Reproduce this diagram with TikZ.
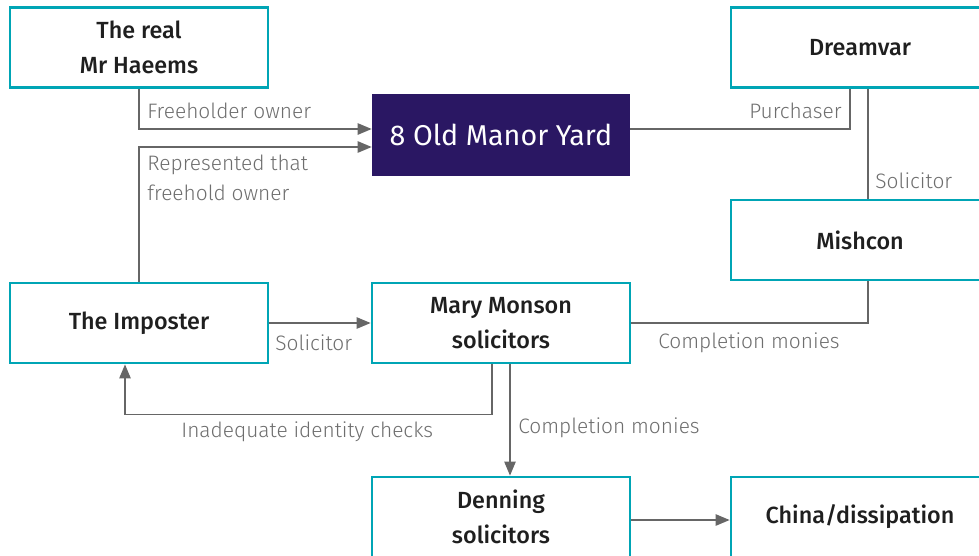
\documentclass[tikz,border=0pt]{standalone}
\usepackage{fontspec}
\setmainfont{Fira Sans}[UprightFont=* Light, BoldFont=* Medium]
\newfontfamily\hubfont{Fira Sans}
\usetikzlibrary{arrows.meta}
\definecolor{teal}{HTML}{00A5B5}
\definecolor{deep}{HTML}{2A1763}
\definecolor{conn}{HTML}{666666}
\definecolor{lbl}{HTML}{6E6E6E}
\tikzset{
  box/.style={draw=teal, line width=1.6pt, fill=white, minimum width=5.16cm, minimum height=1.6cm, align=center, font=\fontsize{13.3}{20}\selectfont\bfseries, text=black!88},
  hub/.style={fill=deep, minimum width=5.16cm, minimum height=1.64cm, font=\hubfont\fontsize{16.3}{18}\selectfont, text=white},
  ln/.style={draw=conn, line width=0.8pt},
  arr/.style={ln, -{Triangle[length=8pt,width=6.5pt]}},
  lab/.style={inner sep=0pt, text=lbl, font=\fontsize{11.9}{17}\selectfont, align=left}
}
\begin{document}
\begin{tikzpicture}[x=0.02cm, y=-0.02cm]
\clip (0,0) rectangle (979,555);
\fill[white] (0,0) rectangle (979,555);
\node[box] (haeems) at (139,47.5) {The real\\Mr Haeems};
\node[box] (dreamvar) at (860,47.5) {Dreamvar};
\node[hub] (omy) at (501,135) {8 Old Manor Yard};
\node[box] (mishcon) at (860,240) {Mishcon};
\node[box] (imposter) at (139,323) {The Imposter};
\node[box] (mms) at (501,323) {Mary Monson\\solicitors};
\node[box] (denning) at (501,517) {Denning\\solicitors};
\node[box] (china) at (860,517) {China/dissipation};

\draw[arr] (haeems.south) |- ([yshift=0.12cm]omy.west);
\draw[arr] (imposter.north) |- ([yshift=-0.24cm]omy.west);
\draw[ln] ([yshift=0.12cm]omy.east) -| ([xshift=-0.2cm]dreamvar.south);
\draw[ln] ([xshift=0.16cm]dreamvar.south) -- ([xshift=0.16cm]mishcon.north);
\draw[arr] (imposter.east) -- (mms.west);
\draw[ln] ([xshift=0.16cm]mishcon.south) |- (mms.east);
\draw[arr] ([xshift=-0.18cm]mms.south) -- ++(0,50) -| ([xshift=-0.28cm]imposter.south);
\draw[arr] ([xshift=0.18cm]mms.south) -- ([xshift=0.18cm]denning.north);
\draw[arr] ([yshift=-0.06cm]denning.east) -- ([yshift=-0.06cm]china.west);

\node[lab, anchor=west] (l1) at (147,111) {Freeholder owner};
\node[lab, anchor=west] (l2) at (147,177.5) {Represented that\\freehold owner};
\node[lab, anchor=east] (l3) at (842,111) {Purchaser};
\node[lab, anchor=west] (l4) at (875,181) {Solicitor};
\node[lab, anchor=west] (l5) at (275,343) {Solicitor};
\node[lab, anchor=west] (l6) at (658,343) {Completion monies};
\node[lab, anchor=west] (l7) at (181,432) {Inadequate identity checks};
\node[lab, anchor=west] (l8) at (518,428) {Completion monies};
\end{tikzpicture}
\end{document}
